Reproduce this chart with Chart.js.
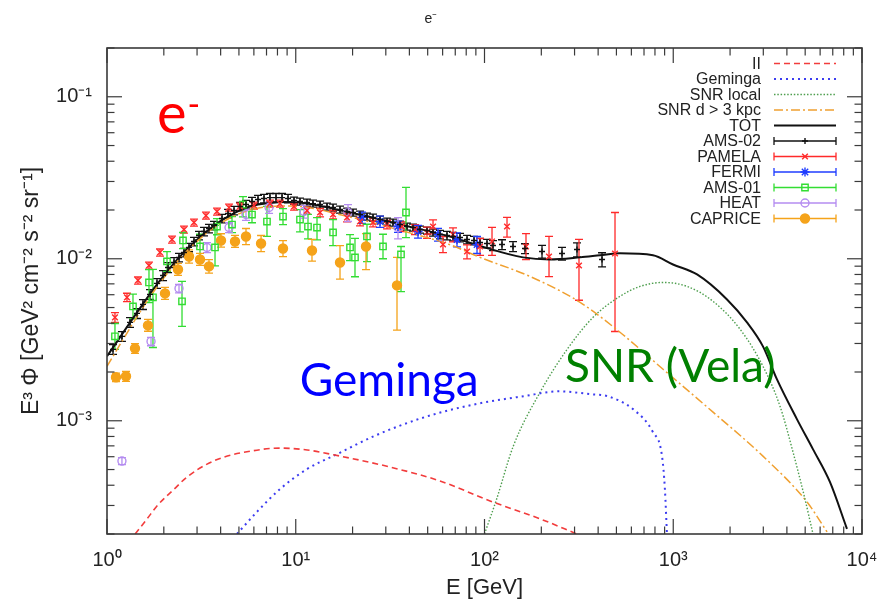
<!DOCTYPE html>
<html><head><meta charset="utf-8">
<script src="https://cdn.jsdelivr.net/npm/chart.js@4.4.1/dist/chart.umd.min.js"></script>
<style>html,body{margin:0;padding:0;background:#fff}#wrap{width:879px;height:606px}</style>
</head><body><div id="wrap"><canvas id="c" width="879" height="606"></canvas></div>
<script>
// ---------- axes ----------
const xTickVals = [1, 10, 100, 1000, 10000];
const xTickLabels = ['10⁰', '10¹', '10²', '10³', '10⁴'];
const yTickVals = [1e-3, 1e-2, 1e-1];
const yTickLabels = ['10⁻³', '10⁻²', '10⁻¹'];

// ---------- model curves ----------
const iiE = [1.41, 1.63, 1.84, 2.27, 2.65, 3.39, 4.17, 5.07, 8.25, 11.5, 17.2, 31.6, 58.1, 107, 197, 309];
const iiV = [2.0e-4, 2.48e-4, 2.98e-4, 3.79e-4, 4.49e-4, 5.4e-4, 5.97e-4, 6.32e-4, 6.78e-4, 6.6e-4, 6.05e-4, 5.18e-4, 4.25e-4, 3.2e-4, 2.48e-4, 2.0e-4];

const gemE = [4.88, 6.23, 8.26, 11.5, 16.6, 26.0, 47.8, 87.9, 162, 250, 362, 446, 612, 781, 872, 903, 926];
const gemV = [2.0e-4, 2.74e-4, 3.79e-4, 5.04e-4, 6.23e-4, 8.04e-4, 1.05e-3, 1.26e-3, 1.42e-3, 1.52e-3, 1.46e-3, 1.42e-3, 1.18e-3, 8.5e-4, 6.05e-4, 3.79e-4, 2.0e-4];

const snrE = [100, 116, 142, 197, 274, 376, 522, 667, 883, 1184, 1625, 2261, 2987, 3678, 4310, 4986, 5500];
const snrV = [2.0e-4, 3.29e-4, 6.96e-4, 1.50e-3, 2.76e-3, 4.35e-3, 5.86e-3, 6.75e-3, 7.14e-3, 6.75e-3, 5.46e-3, 3.67e-3, 2.17e-3, 1.23e-3, 6.41e-4, 3.29e-4, 2.0e-4];

const farE = [1, 1.48, 1.84, 2.41, 3.0, 3.97, 5.72, 9.33, 19.4, 35.7, 65.7, 94.7, 174, 321, 522, 883, 1625, 2987, 5115, 6530];
const farV = [2.17e-3, 4.6e-3, 6.7e-3, 9.9e-3, 1.28e-2, 1.65e-2, 2.0e-2, 2.12e-2, 1.81e-2, 1.5e-2, 1.22e-2, 1.02e-2, 7.78e-3, 5.38e-3, 3.52e-3, 2.08e-3, 1.13e-3, 6.05e-4, 3.15e-4, 2.06e-4];

const totE = [1, 1.48, 1.84, 2.41, 3.0, 3.97, 5.72, 9.33, 19.4, 35.7, 65.7, 94.7, 160, 222, 321, 409, 522, 781, 997, 1337, 1927, 2459, 2987, 3545, 4527, 5495, 6761, 8327];
const totV = [2.5e-3, 4.87e-3, 6.95e-3, 1.02e-2, 1.31e-2, 1.70e-2, 2.1e-2, 2.24e-2, 1.93e-2, 1.63e-2, 1.37e-2, 1.20e-2, 1.02e-2, 9.9e-3, 1.02e-2, 1.05e-2, 1.08e-2, 1.05e-2, 9.22e-3, 8.0e-3, 5.61e-3, 4.05e-3, 2.88e-3, 1.80e-3, 1.02e-3, 6.68e-4, 4.19e-4, 2.15e-4];

// ---------- measurements ----------
const ams02E = [1.076,1.20,1.324,1.442,1.551,1.690,1.840,1.981,2.105,2.265,2.407,2.558,2.720,2.890,3.072,3.265,3.470,3.689,4.068,4.377,4.709,5.066,5.450,5.864,6.31,6.79,7.30,7.86,8.46,9.10,9.79,10.53,11.47,12.34,13.45,14.64,15.76,17.16,18.69,20.11,21.90,23.85,25.67,27.95,30.45,32.75,35.67,38.85,41.80,45.53,49.59,53.37,58.10,63.28,68.10,74.18,80.8,88.0,94.7,103.1,110.9,123.8,141.6,163.9,201.7,257.4,309.1,419.4];
const ams02V = [2.76e-3,3.32e-3,4.05e-3,4.60e-3,5.23e-3,6.03e-3,7.05e-3,7.89e-3,8.84e-3,9.49e-3,1.019e-2,1.094e-2,1.175e-2,1.279e-2,1.392e-2,1.473e-2,1.537e-2,1.604e-2,1.771e-2,1.902e-2,1.984e-2,2.101e-2,2.161e-2,2.255e-2,2.320e-2,2.353e-2,2.386e-2,2.386e-2,2.386e-2,2.353e-2,2.287e-2,2.255e-2,2.223e-2,2.191e-2,2.161e-2,2.101e-2,2.071e-2,2.013e-2,1.957e-2,1.930e-2,1.875e-2,1.823e-2,1.797e-2,1.747e-2,1.698e-2,1.674e-2,1.627e-2,1.581e-2,1.559e-2,1.516e-2,1.494e-2,1.453e-2,1.412e-2,1.392e-2,1.373e-2,1.353e-2,1.315e-2,1.297e-2,1.260e-2,1.243e-2,1.208e-2,1.225e-2,1.191e-2,1.157e-2,1.109e-2,1.078e-2,1.141e-2,9.90e-3];
const ams02Err = [0.07,0.07,0.07,0.07,0.07,0.07,0.07,0.07,0.07,0.07,0.06,0.06,0.06,0.06,0.06,0.06,0.06,0.06,0.06,0.06,0.06,0.06,0.06,0.06,0.06,0.06,0.06,0.06,0.06,0.06,0.05,0.05,0.05,0.05,0.05,0.05,0.05,0.05,0.05,0.05,0.05,0.05,0.05,0.05,0.05,0.05,0.05,0.05,0.05,0.05,0.05,0.05,0.06,0.06,0.06,0.06,0.06,0.06,0.06,0.06,0.07,0.07,0.07,0.07,0.09,0.09,0.10,0.10];

const pamE = [1.102,1.276,1.459,1.669,1.909,2.210,2.558,2.890,3.345,3.826,4.431,5.066,6.01,7.30,8.25,9.79,11.47,13.45,15.76,18.69,21.90,25.67,30.45,36.55,42.83,49.59,53.37,60.26,68.10,80.8,94.7,109.6,131.6,165.9,219.7,316.7,491.4];
const pamV = [4.35e-3,5.78e-3,7.35e-3,9.09e-3,1.094e-2,1.315e-2,1.516e-2,1.674e-2,1.848e-2,1.957e-2,2.071e-2,2.101e-2,2.131e-2,2.191e-2,2.191e-2,2.101e-2,1.984e-2,1.930e-2,1.875e-2,1.797e-2,1.698e-2,1.674e-2,1.627e-2,1.581e-2,1.516e-2,1.453e-2,1.581e-2,1.225e-2,1.412e-2,1.109e-2,1.191e-2,1.279e-2,1.581e-2,1.191e-2,1.033e-2,9.09e-3,1.078e-2];
const pamUp = [0.07,0.06,0.05,0.05,0.05,0.05,0.05,0.05,0.05,0.05,0.05,0.05,0.05,0.05,0.05,0.05,0.05,0.06,0.06,0.06,0.06,0.06,0.06,0.07,0.07,0.08,0.10,0.12,0.10,0.10,0.12,0.22,0.14,0.20,0.33,0.45,0.79];
const pamDn = [0.07,0.06,0.05,0.05,0.05,0.05,0.05,0.05,0.05,0.05,0.05,0.05,0.05,0.05,0.05,0.05,0.05,0.06,0.06,0.06,0.06,0.06,0.06,0.07,0.07,0.08,0.10,0.11,0.10,0.10,0.12,0.18,0.14,0.17,0.25,0.39,0.67];

const fermiE = [22.44, 27.95, 34.81, 44.44, 56.71, 71.50, 91.27];
const fermiV = [1.797e-2, 1.698e-2, 1.581e-2, 1.473e-2, 1.412e-2, 1.315e-2, 1.225e-2];
const fermiErr = [0.08, 0.08, 0.08, 0.09, 0.09, 0.10, 0.12];

const ams01E = [1.102,1.373,1.669,1.752,2.079,2.497,2.527,3.110,3.735,3.826,4.596,5.254,5.864,7.04,8.56,10.53,11.61,12.96,15.76,19.39,20.60,23.85,28.99,36.11,38.38];
const ams01V = [3.32e-3,5.08e-3,7.14e-3,5.78e-3,9.62e-3,5.46e-3,1.297e-2,1.191e-2,1.174e-2,1.581e-2,1.627e-2,2.161e-2,1.875e-2,1.698e-2,1.823e-2,1.747e-2,1.581e-2,1.559e-2,1.453e-2,1.174e-2,1.019e-2,1.373e-2,1.191e-2,1.063e-2,1.930e-2];
const ams01Up = [0.20,0.19,0.20,0.49,0.15,0.33,0.12,0.19,0.37,0.12,0.12,0.12,0.12,0.24,0.12,0.15,0.19,0.15,0.20,0.20,0.31,0.19,0.19,0.12,0.43];
const ams01Dn = [0.17,0.16,0.25,0.51,0.13,0.30,0.11,0.16,0.23,0.11,0.11,0.16,0.11,0.19,0.11,0.16,0.16,0.16,0.17,0.17,0.24,0.30,0.16,0.41,0.30];

const heatE = [1.20, 1.711, 2.407, 3.387, 4.431, 5.450, 7.22, 11.06, 18.92, 34.81];
const heatV = [5.64e-4, 3.09e-3, 6.56e-3, 1.174e-2, 1.559e-2, 1.875e-2, 2.071e-2, 1.957e-2, 1.930e-2, 1.559e-2];
const heatErr = [0.05, 0.06, 0.06, 0.07, 0.07, 0.08, 0.08, 0.09, 0.12, 0.15];

const capE = [1.116,1.261,1.407,1.649,2.029,2.378,2.720,3.110,3.470,4.018,4.766,5.450,6.55,8.56,12.19,17.16,23.56,34.39];
const capV = [1.857e-3,1.884e-3,2.80e-3,3.88e-3,6.11e-3,8.59e-3,1.033e-2,9.90e-3,8.97e-3,1.297e-2,1.279e-2,1.373e-2,1.243e-2,1.157e-2,1.125e-2,9.49e-3,1.191e-2,6.85e-3];
const capUp = [0.06,0.07,0.07,0.09,0.09,0.09,0.10,0.09,0.10,0.10,0.09,0.12,0.12,0.12,0.17,0.27,0.20,0.49];
const capDn = [0.06,0.07,0.07,0.08,0.08,0.08,0.09,0.08,0.09,0.09,0.08,0.11,0.11,0.11,0.14,0.21,0.28,0.47];

// ---------- helpers ----------
const FONT = "'Liberation Sans', Arial, Helvetica, sans-serif";
Chart.defaults.font.family = FONT;
Chart.defaults.color = '#222';
const pts = (E, V) => E.map((e, i) => ({x: e, y: V[i]}));
const curve = (label, E, V, color, dash, width) => ({
  label, kind: 'line', data: pts(E, V), showLine: true, borderColor: color, backgroundColor: color,
  borderDash: dash, borderWidth: width, pointRadius: 0, cubicInterpolationMode: 'monotone', order: 10
});
const meas = (label, E, V, up, dn, color, style, radius, fill) => ({
  label, kind: 'err', data: pts(E, V), showLine: false, errUp: up, errDn: dn,
  borderColor: color, backgroundColor: fill ? color : 'rgba(0,0,0,0)',
  pointStyle: style, pointRadius: radius, pointBorderWidth: 1.4,
  pointBorderColor: color, pointBackgroundColor: fill ? color : 'rgba(0,0,0,0)', order: 1
});

const datasets = [
  curve('II', iiE, iiV, '#f23c3c', [6, 4], 1.6),
  curve('Geminga', gemE, gemV, '#3c3cf0', [2, 4], 2),
  curve('SNR local', snrE, snrV, '#4e9e4e', [1.5, 1.8], 1.4),
  curve('SNR d > 3 kpc', farE, farV, '#f0a030', [9, 3, 2, 3], 1.5),
  curve('TOT', totE, totV, '#111111', [], 2),
  meas('AMS-02', ams02E, ams02V, ams02Err, ams02Err, '#111111', 'cross', 3, false),
  meas('PAMELA', pamE, pamV, pamUp, pamDn, '#ff2a2a', 'crossRot', 4, false),
  meas('FERMI', fermiE, fermiV, fermiErr, fermiErr, '#1f3cff', 'star', 4.5, false),
  meas('AMS-01', ams01E, ams01V, ams01Up, ams01Dn, '#33dd33', 'rect', 4.5, false),
  meas('HEAT', heatE, heatV, heatErr, heatErr, '#b48cf0', 'circle', 4, false),
  meas('CAPRICE', capE, capV, capUp, capDn, '#f5a31a', 'circle', 4.5, true)
];

// ---------- plugins ----------
const errPlugin = {
  id: 'errbars',
  beforeDatasetsDraw(chart) {
    const {ctx, chartArea: a, scales: {x, y}} = chart;
    ctx.save();
    ctx.beginPath(); ctx.rect(a.left, a.top, a.right - a.left, a.bottom - a.top); ctx.clip();
    chart.data.datasets.forEach(ds => {
      if (!ds.errUp) return;
      ctx.strokeStyle = ds.borderColor; ctx.lineWidth = 1.3; ctx.setLineDash([]);
      ds.data.forEach((p, i) => {
        const px = x.getPixelForValue(p.x);
        const yt = y.getPixelForValue(p.y * (1 + ds.errUp[i]));
        const yb = y.getPixelForValue(p.y * (1 - ds.errDn[i]));
        ctx.beginPath();
        ctx.moveTo(px, yt); ctx.lineTo(px, yb);
        ctx.moveTo(px - 4, yt); ctx.lineTo(px + 4, yt);
        ctx.moveTo(px - 4, yb); ctx.lineTo(px + 4, yb);
        ctx.stroke();
      });
    });
    ctx.restore();
  }
};

const framePlugin = {
  id: 'frame',
  afterDatasetsDraw(chart) {
    const {ctx, chartArea: a, scales: {x, y}} = chart;
    ctx.save();
    ctx.strokeStyle = '#3a3a3a'; ctx.setLineDash([]);
    ctx.lineWidth = 1.2;
    const seg = (x1, y1, x2, y2) => { ctx.beginPath(); ctx.moveTo(x1, y1); ctx.lineTo(x2, y2); ctx.stroke(); };
    for (let d = 0; d <= 4; d++) for (let m = 1; m <= 9; m++) {
      const v = m * Math.pow(10, d);
      if (v > x.max * 1.0001) break;
      const px = x.getPixelForValue(v);
      const L = m === 1 ? 15 : 7.5;
      seg(px, a.bottom, px, a.bottom - L); seg(px, a.top, px, a.top + L);
    }
    for (let d = -4; d <= 0; d++) for (let m = 1; m <= 9; m++) {
      const v = m * Math.pow(10, d);
      if (v < y.min * 0.9999 || v > y.max * 1.0001) continue;
      const py = y.getPixelForValue(v);
      const L = m === 1 ? 15 : 7.5;
      seg(a.left, py, a.left + L, py); seg(a.right, py, a.right - L, py);
    }
    ctx.lineWidth = 1.6;
    ctx.strokeRect(a.left, a.top, a.right - a.left, a.bottom - a.top);
    ctx.restore();
  }
};

const notes = [
  {text: 'Geminga', E: 10.5, V: 1.42e-3, color: '#0000ff', size: 46},
  {text: 'SNR (Vela)', E: 267, V: 1.73e-3, color: '#008000', size: 46}
];
const notePlugin = {
  id: 'notes',
  afterDatasetsDraw(chart) {
    const {ctx, scales: {x, y}} = chart;
    ctx.save();
    ctx.textAlign = 'left'; ctx.textBaseline = 'alphabetic';
    notes.forEach(n => {
      ctx.font = n.size + 'px Lato, "Open Sans", sans-serif';
      ctx.fillStyle = n.color;
      ctx.fillText(n.text, x.getPixelForValue(n.E), y.getPixelForValue(n.V));
    });
    // big red e-
    const ex = x.getPixelForValue(1.84), ey = y.getPixelForValue(0.06);
    ctx.fillStyle = '#ff0000';
    ctx.font = '56px Lato, "Open Sans", sans-serif';
    ctx.fillText('e', ex, ey);
    const w = ctx.measureText('e').width;
    ctx.font = '34px Lato, "Open Sans", sans-serif';
    ctx.fillText('-', ex + w + 1, ey - 17);
    ctx.restore();
  }
};

const legendPlugin = {
  id: 'legendBox',
  afterDraw(chart) {
    const {ctx, chartArea: a} = chart;
    const textRight = a.right - 101, x0 = a.right - 88, x1 = a.right - 26, xm = (x0 + x1) / 2;
    let yy = a.top + 15.5;
    ctx.save();
    ctx.font = '16px ' + FONT;
    ctx.textAlign = 'right'; ctx.textBaseline = 'middle';
    chart.data.datasets.forEach(ds => {
      ctx.fillStyle = '#222';
      ctx.fillText(ds.label, textRight, yy + 1);
      ctx.strokeStyle = ds.borderColor;
      ctx.lineWidth = ds.kind === 'line' ? ds.borderWidth : 1.3;
      ctx.setLineDash(ds.kind === 'line' ? ds.borderDash : []);
      ctx.beginPath(); ctx.moveTo(x0, yy); ctx.lineTo(x1, yy); ctx.stroke();
      ctx.setLineDash([]);
      if (ds.kind === 'err') {
        ctx.beginPath();
        ctx.moveTo(x0, yy - 4); ctx.lineTo(x0, yy + 4);
        ctx.moveTo(x1, yy - 4); ctx.lineTo(x1, yy + 4);
        ctx.stroke();
        ctx.fillStyle = ds.pointBackgroundColor;
        ctx.lineWidth = ds.pointBorderWidth;
        Chart.helpers.drawPoint(ctx, {pointStyle: ds.pointStyle, radius: ds.pointRadius, borderWidth: ds.pointBorderWidth, rotation: 0}, xm, yy);
      }
      yy += 15.5;
    });
    ctx.restore();
  }
};

new Chart(document.getElementById('c'), {
  type: 'scatter',
  data: {datasets},
  options: {
    responsive: false, animation: false, devicePixelRatio: 1,
    layout: {padding: {left: 0, right: 17, top: 0, bottom: 0}},
    plugins: {
      legend: {display: false}, tooltip: {enabled: false},
      title: {display: true, text: 'e⁻', color: '#222', font: {size: 14, weight: 'normal', family: FONT}, padding: {top: 11, bottom: 20.2}}
    },
    scales: {
      x: {
        type: 'logarithmic', position: 'bottom', min: 1, max: 10000,
        grid: {display: false, drawTicks: false}, border: {display: false},
        afterBuildTicks: s => { s.ticks = xTickVals.map(v => ({value: v})); },
        afterFit: s => { s.height = 72; s.paddingLeft = 0; s.paddingRight = 0; },
        ticks: {autoSkip: false, maxRotation: 0, padding: 14, color: '#222', font: {size: 20},
          callback: (v) => xTickLabels[xTickVals.indexOf(v)] ?? ''},
        title: {display: true, text: 'E [GeV]', color: '#222', font: {size: 22}, padding: {top: 0, bottom: 5}}
      },
      y: {
        type: 'logarithmic', position: 'left', min: 2e-4, max: 0.2,
        grid: {display: false, drawTicks: false}, border: {display: false},
        afterBuildTicks: s => { s.ticks = yTickVals.map(v => ({value: v})); },
        afterFit: s => { s.width = 107; s.paddingTop = 0; s.paddingBottom = 0; },
        ticks: {autoSkip: false, padding: 15, color: '#222', font: {size: 20},
          callback: (v) => yTickLabels[yTickVals.findIndex(t => Math.abs(t - v) / t < 1e-6)] ?? ''},
        title: {display: true, text: 'E³ Φ [GeV² cm⁻² s⁻² sr⁻¹]', color: '#222', font: {size: 23}, padding: {top: 18, bottom: 0}}
      }
    }
  },
  plugins: [errPlugin, framePlugin, notePlugin, legendPlugin]
});
</script></body></html>
